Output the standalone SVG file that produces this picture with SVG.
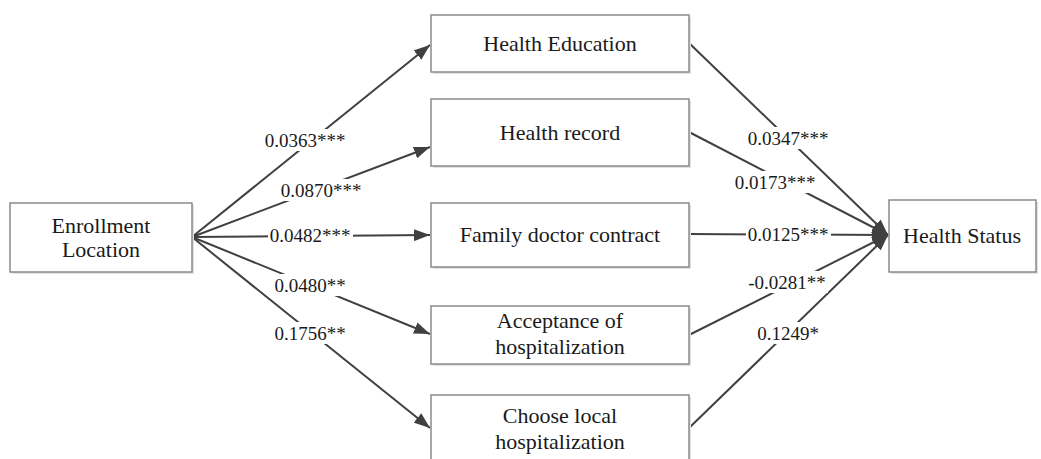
<svg xmlns="http://www.w3.org/2000/svg" width="1041" height="459" viewBox="0 0 1041 459">
<style>
.box{fill:#fff;stroke:#8a8a8a;stroke-width:1.5}
.sh{fill:#e2e2e2}
text{font-family:'Liberation Serif','DejaVu Serif',serif;fill:#1a1a1a;text-anchor:middle;dominant-baseline:central}
.t{font-size:22px}
.lb{font-size:19px}
.e{stroke:#404040;stroke-width:2;fill:none}
.bg{fill:#fff}
</style>
<defs>
<marker id="ah" viewBox="0 0 16 12" refX="16" refY="6" markerWidth="16" markerHeight="12" markerUnits="userSpaceOnUse" orient="auto">
<path d="M0,0 L16,6 L0,12 Z" fill="#404040"/>
</marker>
</defs>
<rect width="1041" height="459" fill="#fff"/>
<g id="connectors">
<line class="e" x1="192" y1="237" x2="430" y2="45" marker-end="url(#ah)"/>
<line class="e" x1="192" y1="237" x2="430" y2="147" marker-end="url(#ah)"/>
<line class="e" x1="192" y1="237" x2="430" y2="235" marker-end="url(#ah)"/>
<line class="e" x1="192" y1="237" x2="430" y2="334" marker-end="url(#ah)"/>
<line class="e" x1="192" y1="237" x2="430" y2="428" marker-end="url(#ah)"/>
<line class="e" x1="689" y1="43" x2="888" y2="235" marker-end="url(#ah)"/>
<line class="e" x1="689" y1="132" x2="888" y2="235" marker-end="url(#ah)"/>
<line class="e" x1="689" y1="234" x2="888" y2="235" marker-end="url(#ah)"/>
<line class="e" x1="689" y1="335" x2="888" y2="235" marker-end="url(#ah)"/>
<line class="e" x1="689" y1="428" x2="888" y2="235" marker-end="url(#ah)"/>
<rect class="bg" x="263" y="129" width="84" height="22"/>
<text class="lb" x="305" y="140" font-family="Liberation Serif, DejaVu Serif, serif">0.0363***</text>
<rect class="bg" x="279" y="179" width="85" height="22"/>
<text class="lb" x="321" y="190" font-family="Liberation Serif, DejaVu Serif, serif">0.0870***</text>
<rect class="bg" x="268" y="224" width="85" height="22"/>
<text class="lb" x="310" y="235" font-family="Liberation Serif, DejaVu Serif, serif">0.0482***</text>
<rect class="bg" x="273" y="274" width="74" height="22"/>
<text class="lb" x="310" y="285" font-family="Liberation Serif, DejaVu Serif, serif">0.0480**</text>
<rect class="bg" x="273" y="322" width="74" height="22"/>
<text class="lb" x="310" y="333" font-family="Liberation Serif, DejaVu Serif, serif">0.1756**</text>
<rect class="bg" x="746" y="127" width="85" height="22"/>
<text class="lb" x="788" y="138" font-family="Liberation Serif, DejaVu Serif, serif">0.0347***</text>
<rect class="bg" x="732" y="171" width="86" height="22"/>
<text class="lb" x="775" y="182" font-family="Liberation Serif, DejaVu Serif, serif">0.0173***</text>
<rect class="bg" x="746" y="223" width="85" height="22"/>
<text class="lb" x="788" y="234" font-family="Liberation Serif, DejaVu Serif, serif">0.0125***</text>
<rect class="bg" x="746" y="271" width="82" height="22"/>
<text class="lb" x="787" y="282" font-family="Liberation Serif, DejaVu Serif, serif">-0.0281**</text>
<rect class="bg" x="756" y="322" width="65" height="22"/>
<text class="lb" x="788" y="333" font-family="Liberation Serif, DejaVu Serif, serif">0.1249*</text>
</g>
<g id="enrollment">
<rect class="sh" x="12" y="205" width="182" height="69"/>
<rect class="box" x="10" y="203" width="182" height="69"/>
<text class="t" x="101" y="225" font-family="Liberation Serif, DejaVu Serif, serif">Enrollment</text>
<text class="t" x="101" y="249" font-family="Liberation Serif, DejaVu Serif, serif">Location</text>
</g>
<g id="health-education">
<rect class="sh" x="433" y="17" width="258" height="57"/>
<rect class="box" x="431" y="15" width="258" height="57"/>
<text class="t" x="560" y="43" font-family="Liberation Serif, DejaVu Serif, serif">Health Education</text>
</g>
<g id="health-record">
<rect class="sh" x="433" y="101" width="258" height="67"/>
<rect class="box" x="431" y="99" width="258" height="67"/>
<text class="t" x="560" y="132" font-family="Liberation Serif, DejaVu Serif, serif">Health record</text>
</g>
<g id="family-doctor">
<rect class="sh" x="433" y="205" width="258" height="64"/>
<rect class="box" x="431" y="203" width="258" height="64"/>
<text class="t" x="560" y="234" font-family="Liberation Serif, DejaVu Serif, serif">Family doctor contract</text>
</g>
<g id="acceptance">
<rect class="sh" x="433" y="308" width="258" height="58"/>
<rect class="box" x="431" y="306" width="258" height="58"/>
<text class="t" x="560" y="320" font-family="Liberation Serif, DejaVu Serif, serif">Acceptance of</text>
<text class="t" x="560" y="346" font-family="Liberation Serif, DejaVu Serif, serif">hospitalization</text>
</g>
<g id="choose-local">
<rect class="sh" x="433" y="397" width="258" height="70"/>
<rect class="box" x="431" y="395" width="258" height="70"/>
<text class="t" x="560" y="415" font-family="Liberation Serif, DejaVu Serif, serif">Choose local</text>
<text class="t" x="560" y="441" font-family="Liberation Serif, DejaVu Serif, serif">hospitalization</text>
</g>
<g id="health-status">
<rect class="sh" x="891" y="202" width="147" height="72"/>
<rect class="box" x="889" y="200" width="147" height="72"/>
<text class="t" x="962" y="235" font-family="Liberation Serif, DejaVu Serif, serif">Health Status</text>
</g>
</svg>
